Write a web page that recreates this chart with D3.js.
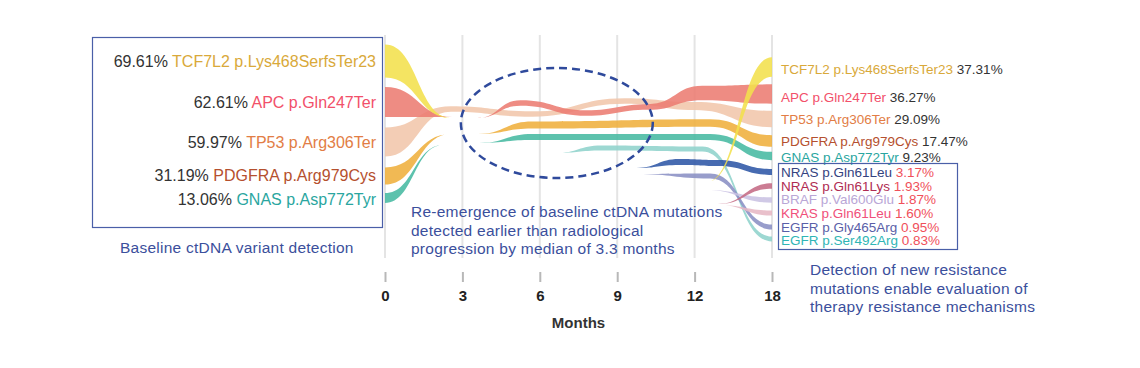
<!DOCTYPE html>
<html>
<head>
<meta charset="utf-8">
<title>ctDNA variant streams</title>
<style>
  body { margin: 0; background: #fff; }
  text { font-family: "Liberation Sans", Arial, sans-serif; }
  .note { fill: #3b4f9c; font-size: 15.5px; }
</style>
</head>
<body>
<svg width="1140" height="368"></svg>
<script src="https://d3js.org/d3.v7.min.js"></script>
<script>
// months on the x axis (drawn equally spaced)
var months = ["0", "3", "6", "9", "12", "18"];

// baseline variants (month 0)
var baseGenes = ["TCF7L2 p.Lys468SerfsTer23", "APC p.Gln247Ter", "TP53 p.Arg306Ter", "PDGFRA p.Arg979Cys", "GNAS p.Asp772Tyr"];
var baseVaf = ["69.61%", "62.61%", "59.97%", "31.19%", "13.06%"];
var baseColors = ["#d9a93a", "#f2506a", "#e27d45", "#b5502e", "#2aa6a0"];
var basePos = [26, 67, 107, 140, 164];

// variants at progression (month 18)
var endGenes = ["TCF7L2 p.Lys468SerfsTer23", "APC p.Gln247Ter", "TP53 p.Arg306Ter", "PDGFRA p.Arg979Cys", "GNAS p.Asp772Tyr",
                "NRAS p.Gln61Leu", "NRAS p.Gln61Lys", "BRAF p.Val600Glu", "KRAS p.Gln61Leu", "EGFR p.Gly465Arg", "EGFR p.Ser492Arg"];
var endVaf = ["37.31%", "36.27%", "29.09%", "17.47%", "9.23%", "3.17%", "1.93%", "1.87%", "1.60%", "0.95%", "0.83%"];
var endColors = ["#d9a93a", "#f2506a", "#e27d45", "#b5502e", "#2aa6a0", "#34437f", "#b02c52", "#b9a6d6", "#f0507a", "#5a5fa8", "#2fb5b5"];
var endVafColors = ["#333", "#333", "#333", "#333", "#333", "#f0505a", "#f0505a", "#f0505a", "#f0505a", "#f0505a", "#f0505a"];
var endPos = [34, 62, 84, 106, 122, 137, 151, 164, 178, 192, 205];

// stream segments: [month index, lane position, VAF]
var tcf7l2 = [[[0, 26, 69.61], [0.85, 83, 0]], [[4.15, 147, 0], [5, 32, 37.31]]];
var apc = [[[0, 67, 62.61], [0.87, 82, 0]],
           [[1.19, 83, 0], [1.75, 68, 3], [2.6, 78, 3], [3.4, 72, 3], [4.1, 58, 24], [5, 59, 36.27]]];
var tp53 = [[[0, 107, 59.97], [0.85, 74, 2], [1.9, 79, 2], [3.1, 66, 3], [4, 71, 9], [5, 84, 29.09]]];
var pdgfra = [[[0, 141, 31.19], [0.85, 99, 0]], [[1.2, 99, 0], [1.9, 90, 6], [4.2, 88, 7], [5, 106, 17.47]]];
var gnas = [[[0, 163, 13.06], [0.75, 110, 0]], [[1.22, 108, 0], [1.9, 102, 4], [4.2, 102, 4], [5, 121, 9.23]]];
var egfrS492 = [[[2.2, 118, 0], [2.8, 113, 1.5], [4.1, 114, 1.5], [5, 204, 0.83]]];
var nrasQ61L = [[[3.25, 133, 0], [3.8, 127, 3.17], [4.3, 128, 3.17], [5, 137, 3.17]]];
var egfrG465 = [[[3.25, 139, 0], [4.2, 141, 0.95], [5, 192, 0.95]]];
var nrasQ61K = [[[4.3, 169, 0], [5, 151, 1.93]]];
var braf = [[[4.15, 155, 0], [5, 165, 1.87]]];
var kras = [[[4.3, 170, 0], [5, 178, 1.6]]];

var streams = [
  { segs: egfrS492, color: "#8fd3cc" },
  { segs: egfrG465, color: "#8a8fc4" },
  { segs: braf, color: "#c9c2e2" },
  { segs: kras, color: "#e6b7c4" },
  { segs: nrasQ61K, color: "#c46a84" },
  { segs: gnas, color: "#47b9a2" },
  { segs: pdgfra, color: "#efaf3c" },
  { segs: tp53, color: "#f1c6ab" },
  { segs: apc, color: "#ec7c72" },
  { segs: nrasQ61L, color: "#2d56a6" },
  { segs: tcf7l2, color: "#f2e04c" }
];

var svg = d3.select("svg");

var x = d3.scaleLinear().domain([0, months.length - 1]).range([385, 772]);
var y = d3.scaleLinear().domain([0, 220]).range([35, 255]);
var w = d3.scaleLinear().domain([0, 70]).range([4.5, 33]);
function width(v) { return v > 0 ? w(v) : 0; }

// grid lines
svg.append("g").selectAll("line")
  .data(months)
  .enter().append("line")
  .attr("x1", function(d, i) { return x(i); })
  .attr("x2", function(d, i) { return x(i); })
  .attr("y1", 35).attr("y2", 258)
  .attr("stroke", "#e4e4e4")
  .attr("stroke-width", 2);

// streams
var area = d3.area()
  .x(function(d) { return x(d[0]); })
  .y0(function(d) { return y(d[1]) - width(d[2]) / 2; })
  .y1(function(d) { return y(d[1]) + width(d[2]) / 2; })
  .curve(d3.curveBumpX);

var sg = svg.append("g");
streams.forEach(function(s) {
  s.segs.forEach(function(seg) {
    sg.append("path")
      .attr("d", area(seg))
      .attr("fill", s.color)
      .attr("fill-opacity", 0.88);
  });
});

// axis
var axis = d3.axisBottom(x)
  .tickValues(d3.range(months.length))
  .tickFormat(function(i) { return months[i]; })
  .tickSize(10)
  .tickPadding(8);

var ax = svg.append("g")
  .attr("transform", "translate(0,272)")
  .call(axis);
ax.select(".domain").remove();
ax.selectAll(".tick line").attr("stroke", "#b8b8b8").attr("stroke-width", 2);
ax.selectAll(".tick text")
  .style("font-family", "Liberation Sans, Arial, sans-serif")
  .style("font-size", "15px")
  .style("font-weight", "bold")
  .attr("fill", "#222");

svg.append("text")
  .attr("x", (x(2) + x(3)) / 2)
  .attr("y", 328)
  .attr("text-anchor", "middle")
  .style("font-size", "15px")
  .style("font-weight", "bold")
  .attr("fill", "#333")
  .text("Months");

// left labels
var left = svg.append("g").selectAll("text")
  .data(baseGenes)
  .enter().append("text")
  .attr("x", 376)
  .attr("y", function(d, i) { return y(basePos[i]); })
  .attr("dy", "0.35em")
  .attr("text-anchor", "end")
  .style("font-size", "16px");
left.append("tspan").attr("fill", "#333").text(function(d, i) { return baseVaf[i] + " "; });
left.append("tspan").attr("fill", function(d, i) { return baseColors[i]; }).text(function(d) { return d; });

// right labels
var right = svg.append("g").selectAll("text")
  .data(endGenes)
  .enter().append("text")
  .attr("x", 781)
  .attr("y", function(d, i) { return y(endPos[i]); })
  .attr("dy", "0.35em")
  .style("font-size", "13.5px");
right.append("tspan").attr("fill", function(d, i) { return endColors[i]; }).text(function(d) { return d + " "; });
right.append("tspan").attr("fill", function(d, i) { return endVafColors[i]; }).text(function(d, i) { return endVaf[i]; });

// boxes
svg.append("rect")
  .attr("x", 92.5).attr("y", 37.5).attr("width", 290).attr("height", 190)
  .attr("fill", "none").attr("stroke", "#4a5fa8").attr("stroke-width", 1.2);
svg.append("rect")
  .attr("x", 778.5).attr("y", 163.5).attr("width", 179).attr("height", 86)
  .attr("fill", "none").attr("stroke", "#4a5fa8").attr("stroke-width", 1.2);

// dashed ellipse
svg.append("ellipse")
  .attr("cx", x(2.22)).attr("cy", y(88))
  .attr("rx", x(1.24) - x(0)).attr("ry", 55)
  .attr("fill", "none")
  .attr("stroke", "#2f4a9c")
  .attr("stroke-width", 2.5)
  .attr("stroke-dasharray", "8,5");

// notes, one text per line
function note(lines, x0, y0, step) {
  lines.forEach(function(t, i) {
    svg.append("text").attr("class", "note")
      .attr("x", x0).attr("y", y0 + i * step)
      .style("letter-spacing", "0.25px")
      .text(t);
  });
}
note(["Baseline ctDNA variant detection"], 120, 253, 0);
note(["Re-emergence of baseline ctDNA mutations", "detected earlier than radiological", "progression by median of 3.3 months"], 411, 217, 18.5);
note(["Detection of new resistance", "mutations enable evaluation of", "therapy resistance mechanisms"], 810, 275, 18.5);
</script>
</body>
</html>
